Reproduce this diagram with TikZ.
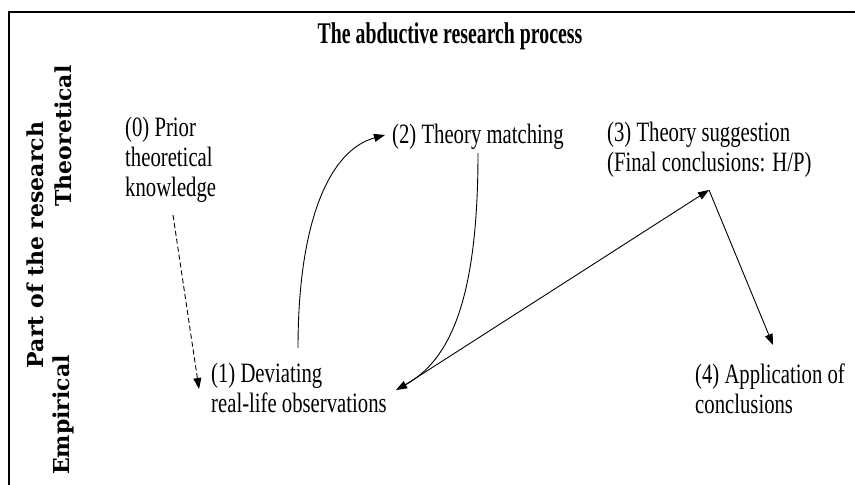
\documentclass[tikz,border=0pt]{standalone}
\usepackage{fontspec}
\setmainfont{Liberation Serif}[FakeStretch=0.74]
\newfontfamily\titlefont{Liberation Serif}[FakeStretch=0.66]
\newfontfamily\sidefont{DejaVu Serif}
\usepackage{tikz}
\usetikzlibrary{arrows.meta}

\tikzset{
  stage/.style={anchor=base west, inner sep=0pt, align=left,
    font=\fontsize{28}{30}\selectfont},
  side/.style={rotate=90, inner sep=0pt,
    font=\sidefont\bfseries\fontsize{22}{26}\selectfont},
  flow/.style={line width=0.9pt, -{Triangle[length=11pt,width=8pt]}}
}

\begin{document}
\begin{tikzpicture}[x=1pt,y=-1pt]
        \useasboundingbox (0,0) rectangle (855,485);

        % frame
        \draw [line width=1.6pt] (855,12) -- (9,12) -- (9,485);

        \node (title) [font=\titlefont\bfseries\fontsize{30}{34}\selectfont, inner sep=0pt] at (450,36) {The abductive research process};

        \node (part) [side] at (35,245) {Part of the research};
        \node (theo) [side] at (63,136) {Theoretical};
        \node (emp)  [side] at (63,415) {Empirical};

        % base anchor of a multi-line node is the last line
        \node (n0) [stage] at (125,196) {(0) Prior\\theoretical\\knowledge};
        \node (n1) [stage] at (211,412) {(1) Deviating\\real-life observations};
        \node (n2) [stage] at (392,143) {(2) Theory matching};
        \node (n3) [stage] at (607,171) {(3) Theory suggestion\\(Final conclusions: H/P)};
        \node (n4) [stage] at (695,413) {(4) Application of\\conclusions};

        \coordinate (c0) at (173,215);
        \coordinate (c1in) at (199,389);
        \coordinate (c1up) at (298,348);
        \coordinate (c2in) at (385,135);
        \coordinate (c2out) at (478,153);
        \coordinate (c1r) at (396,390);
        \coordinate (c1out) at (405,385);
        \coordinate (c3) at (709,190);
        \coordinate (c4) at (773,345);

        \draw [flow, dash pattern=on 5pt off 3pt] (c0) -- (c1in);
        \draw [flow] (c1up) .. controls (298,220) and (330,150) .. (c2in);
        \draw [flow] (c2out) .. controls (478,300) and (450,360) .. (c1r);
        \draw [flow] (c1out) -- (c3);
        \draw [flow] (c3) -- (c4);

    \end{tikzpicture}
\end{document}
